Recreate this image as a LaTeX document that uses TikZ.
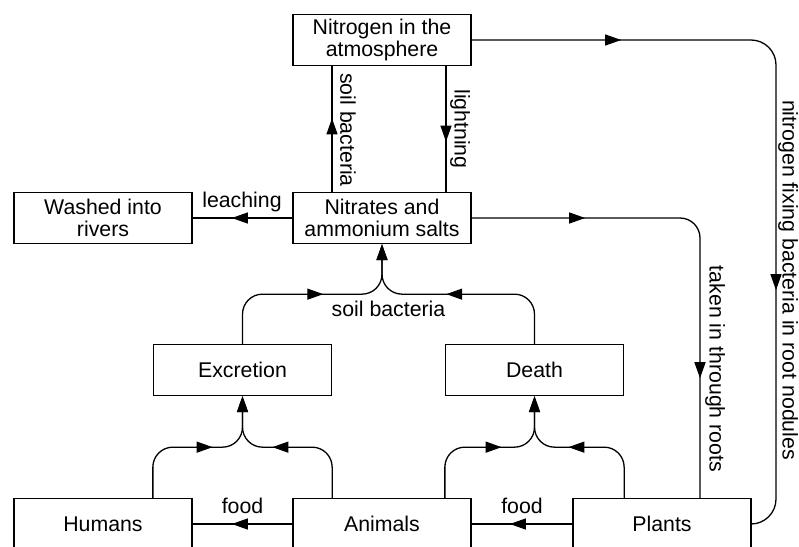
\documentclass[tikz,border=0pt]{standalone}
\usepackage{fontspec}
\setmainfont{Liberation Sans}
\usetikzlibrary{arrows.meta,decorations.markings}
\begin{document}
\begin{tikzpicture}[x=1pt,y=-1pt,
  box/.style={draw, line width=1.3pt, minimum width=178pt, minimum height=51pt, align=center, inner sep=0pt, font=\fontsize{21.3}{22}\selectfont},
  lab/.style={inner sep=0pt, font=\fontsize{21.3}{22}\selectfont},
  conn/.style={line width=1.3pt},
  endtip/.style={-{Triangle[length=16pt,width=11pt]}},
  ma/.style={postaction={decorate, decoration={markings, mark=at position #1 with {\arrow{Triangle[length=16pt,width=11pt]}}}}}
]
\useasboundingbox (0,0) rectangle (799,546);
% boxes
\node[box] (N)  at (382,40)    {Nitrogen in the\\atmosphere};
\node[box] (NA) at (382,218)   {Nitrates and\\ammonium salts};
\node[box] (W)  at (103,218)   {Washed into\\rivers};
\node[box] (E)  at (242.5,370) {Excretion};
\node[box] (D)  at (534.5,370) {Death};
\node[box] (H)  at (103,524)   {Humans};
\node[box] (A)  at (382,524)   {Animals};
\node[box] (P)  at (662,524)   {Plants};
\coordinate (rx) at (776,300);

% connectors
\draw[conn, ma=73.5pt] ([xshift=-50pt]NA.north) -- ([xshift=-50pt]N.south);
\draw[conn, ma=75.5pt] ([xshift=64pt]N.south) -- ([xshift=64pt]NA.north);
\draw[conn, ma=60.5pt] (NA.west) -- (W.east);
\draw[conn, rounded corners=20pt, endtip, ma=121.9pt] (E.north) |- ([yshift=-50pt]NA.south) -- (NA.south);
\draw[conn, rounded corners=20pt, endtip, ma=129.4pt] (D.north) |- ([yshift=-50pt]NA.south) -- (NA.south);
\draw[conn, rounded corners=20pt, endtip, ma=101.9pt] (H.north -| E.west) |- ([yshift=-51pt]E.south) -- (E.south);
\draw[conn, rounded corners=20pt, endtip, ma=101.9pt] (A.north -| E.east) |- ([yshift=-51pt]E.south) -- (E.south);
\draw[conn, rounded corners=20pt, endtip, ma=98.9pt] (A.north -| D.west) |- ([yshift=-51pt]D.south) -- (D.south);
\draw[conn, rounded corners=20pt, endtip, ma=97.9pt] (P.north -| D.east) |- ([yshift=-51pt]D.south) -- (D.south);
\draw[conn, ma=60.5pt] (A.west) -- (H.east);
\draw[conn, ma=62.5pt] (P.west) -- (A.east);
\draw[conn, rounded corners=20pt, ma=113.5pt, ma=380pt] (NA.east) -| ([xshift=38pt]P.north);
\draw[conn, rounded corners=25pt, ma=149.5pt, ma=543.8pt] (N.east) -| (rx) |- (P.east);

% labels
\node[lab, rotate=-90] (l1) at (348,130) {soil bacteria};
\node[lab, rotate=-90] (l2) at (460,129) {lightning};
\node[lab] (l3) at (242,202) {leaching};
\node[lab] (l4) at (388.5,308.5) {soil bacteria};
\node[lab] (l5) at (242.5,505.5) {food};
\node[lab] (l6) at (522,505.5) {food};
\node[lab, rotate=-90] (l7) at (715,369) {taken in through roots};
\node[lab, rotate=-90] (l8) at (788,280) {nitrogen fixing bacteria in root nodules};
\end{tikzpicture}
\end{document}
